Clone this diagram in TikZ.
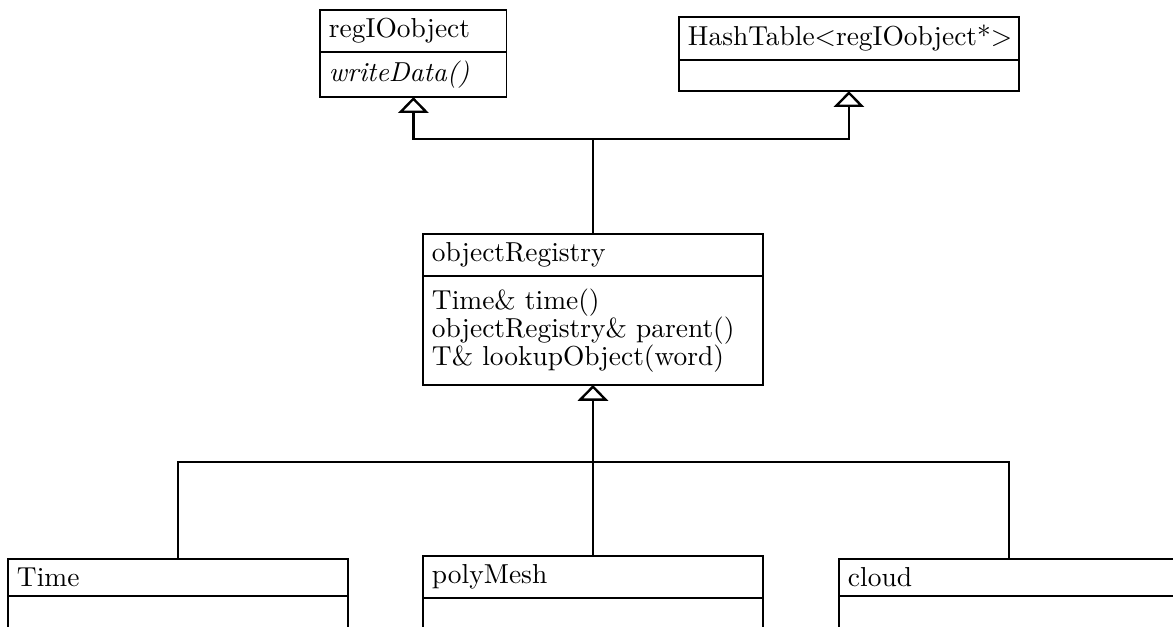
\documentclass[tikz,border=0pt]{standalone}
\usepackage{tikz}
\usetikzlibrary{arrows.meta,positioning}

\begin{document}
\begin{tikzpicture}[x=0.379pt,y=-0.379pt,
  umlclass/.style={draw,line width=0.5pt,outer sep=0pt,inner xsep=3.4pt,inner ysep=0pt,
    align=left,font=\fontsize{10.4}{10.6}\selectfont},
  widebox/.style={text width=122pt},
  narrowbox/.style={text width=64pt},
  link/.style={line width=0.9pt},
  inherit/.style={link,-{Triangle[open,length=6pt,width=11.5pt]}}]
  \clip (0,0) rectangle (1173,626);
  % base classes
  \node[umlclass,narrowbox,minimum height=15.9pt,anchor=north west] (regio) at (320,10) {regIOobject};
  \node[umlclass,narrowbox,minimum height=17.1pt,below=0pt of regio] (regiobody) {\textit{writeData()}};
  \node[umlclass,widebox,minimum height=16.3pt,anchor=north west] (hash) at (679,17) {HashTable<regIOobject*>};
  \node[umlclass,widebox,minimum height=11.8pt,below=0pt of hash] (hashbody) {};
  % registry
  \node[umlclass,widebox,minimum height=15.9pt,anchor=north west] (registry) at (423,234) {objectRegistry};
  \node[umlclass,widebox,minimum height=41.3pt,below=0pt of registry] (registrybody)
    {Time\& time()\\objectRegistry\& parent()\\T\& lookupObject(word)};
  % derived classes
  \node[umlclass,widebox,minimum height=14pt,anchor=north west] (timename) at (8,559) {Time};
  \node[umlclass,widebox,minimum height=25pt,below=0pt of timename] (timebody) {};
  \node[umlclass,widebox,minimum height=15.9pt,anchor=north west] (meshname) at (423,556) {polyMesh};
  \node[umlclass,widebox,minimum height=25pt,below=0pt of meshname] (meshbody) {};
  \node[umlclass,widebox,minimum height=14pt,anchor=north west] (cloudname) at (839,559) {cloud};
  \node[umlclass,widebox,minimum height=25pt,below=0pt of cloudname] (cloudbody) {};
  % connectors
  \path (registry.north) ++(0,-95) coordinate (upjoin);
  \path (registrybody.south) ++(0,77) coordinate (downjoin);
  \draw[inherit] (registry.north) -- (upjoin) -| (regiobody.south);
  \draw[inherit] (upjoin) -| (hashbody.south);
  \draw[inherit] (downjoin) -- (registrybody.south);
  \draw[link] (timename.north) |- (downjoin) -| (cloudname.north);
  \draw[link] (meshname.north) -- (downjoin);
\end{tikzpicture}
\end{document}
